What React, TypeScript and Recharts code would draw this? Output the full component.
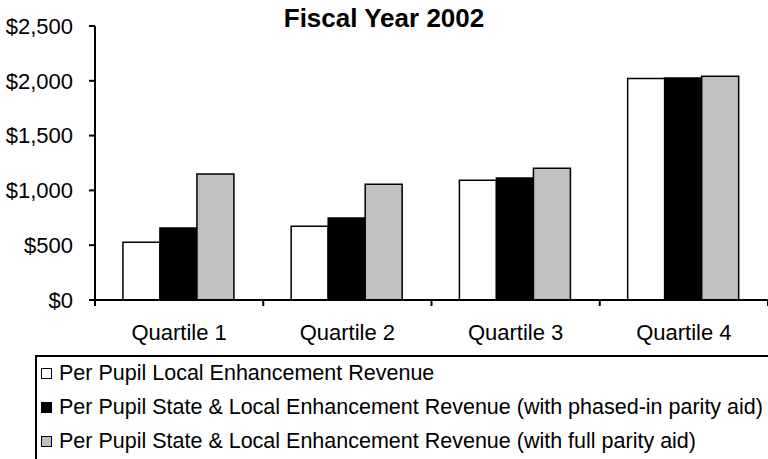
import { Bar, BarChart, Legend, XAxis, YAxis } from "recharts";

const categories = ["Quartile 1", "Quartile 2", "Quartile 3", "Quartile 4"];
const localOnly = [526, 672, 1092, 2022];
const phasedIn = [657, 748, 1113, 2025];
const fullParity = [1150, 1055, 1201, 2041];
const seriesNames = [
  "Per Pupil Local Enhancement Revenue",
  "Per Pupil State & Local Enhancement Revenue (with phased-in parity aid)",
  "Per Pupil State & Local Enhancement Revenue (with full parity aid)",
];
const seriesFills = ["#ffffff", "#000000", "#c0c0c0"];
const yTicks = [0, 500, 1000, 1500, 2000, 2500];

const FONT = '"Liberation Sans", Arial, sans-serif';

const data = categories.map((name, i) => ({
  name,
  local: localOnly[i],
  phased: phasedIn[i],
  full: fullParity[i],
}));

function QuartileTick(props: any) {
  const { x, y, payload, index, visibleTicksCount } = props;
  const off = payload.offset ?? 0;
  return (
    <g>
      <line x1={x - off} x2={x - off} y1={y} y2={y + 6} stroke="#000" strokeWidth={2} />
      {index === visibleTicksCount - 1 && (
        <line x1={x + off} x2={x + off} y1={y} y2={y + 6} stroke="#000" strokeWidth={2} />
      )}
      <text x={x} y={y + 40} textAnchor="middle" fill="#000" fontSize={22} fontFamily={FONT}>
        {payload.value}
      </text>
    </g>
  );
}

function BoxLegend() {
  return (
    <div style={{ height: 104, paddingLeft: 35, boxSizing: "border-box" }}>
      <div
        style={{
          borderTop: "2px solid #000",
          borderLeft: "2px solid #000",
          height: 104,
          boxSizing: "border-box",
          fontFamily: FONT,
          fontSize: 21.5,
          color: "#000",
        }}
      >
        {seriesNames.map((name, i) => (
          <div key={name} style={{ height: 34, display: "flex", alignItems: "center", marginTop: i === 0 ? -1 : 0 }}>
            <span
              style={{
                width: 11,
                height: 11,
                boxSizing: "border-box",
                border: "1.5px solid #000",
                background: seriesFills[i],
                marginLeft: 4,
                marginRight: 7,
                flex: "none",
              }}
            />
            <span style={{ whiteSpace: "nowrap" }}>{name}</span>
          </div>
        ))}
      </div>
    </div>
  );
}

export default function App() {
  return (
    <div style={{ position: "absolute", left: 0, top: 0, width: 768, height: 459, background: "#fff" }}>
      <div
        style={{
          position: "absolute",
          top: 5,
          left: 0,
          width: 768,
          textAlign: "center",
          fontFamily: FONT,
          fontWeight: "bold",
          fontSize: 26,
          lineHeight: "26px",
          color: "#000",
          zIndex: 1,
        }}
      >
        Fiscal Year 2002
      </div>
      <BarChart
        width={768}
        height={459}
        data={data}
        margin={{ top: 26, right: 0, left: 0, bottom: 0 }}
        barCategoryGap="16.6%"
        barGap={0}
      >
        <XAxis
          dataKey="name"
          height={55}
          interval={0}
          tick={<QuartileTick />}
          tickLine={false}
          tickSize={0}
          tickMargin={0}
          axisLine={{ stroke: "#000", strokeWidth: 2 }}
        />
        <YAxis
          width={95}
          domain={[0, 2500]}
          ticks={yTicks}
          interval={0}
          tickFormatter={(v: number) => `$${v.toLocaleString("en-US")}`}
          tick={{ fill: "#000", fontSize: 22, fontFamily: FONT }}
          tickSize={6}
          tickMargin={16}
          tickLine={{ stroke: "#000", strokeWidth: 2 }}
          axisLine={{ stroke: "#000", strokeWidth: 2 }}
        />
        <Legend verticalAlign="bottom" content={<BoxLegend />} />
        <Bar dataKey="local" fill={seriesFills[0]} stroke="#000" strokeWidth={1.5} isAnimationActive={false} />
        <Bar dataKey="phased" fill={seriesFills[1]} stroke="#000" strokeWidth={1.5} isAnimationActive={false} />
        <Bar dataKey="full" fill={seriesFills[2]} stroke="#000" strokeWidth={1.5} isAnimationActive={false} />
      </BarChart>
    </div>
  );
}
